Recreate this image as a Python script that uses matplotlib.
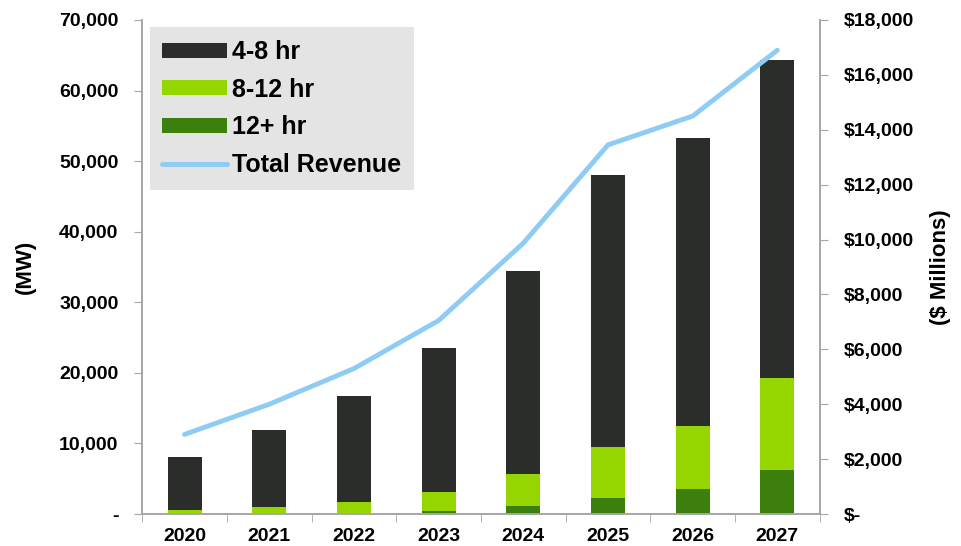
import numpy as np
import matplotlib.pyplot as plt
from matplotlib.ticker import FuncFormatter

plt.rcParams['font.family'] = ['Liberation Sans', 'DejaVu Sans']
plt.rcParams['font.weight'] = 'bold'

years = ['2020', '2021', '2022', '2023', '2024', '2025', '2026', '2027']
mw_12plus = [0, 0, 0, 420, 1130, 2220, 3490, 6230]
mw_8_12 = [560, 940, 1700, 2740, 4530, 7260, 8910, 13030]
mw_4_8 = [7500, 10900, 15000, 20340, 28740, 38520, 40900, 45140]
revenue = [2900, 4000, 5300, 7050, 9870, 13450, 14500, 16900]

c_dark = '#2b2d2b'
c_lime = '#95d600'
c_green = '#3d7f0c'
c_line = '#8ecbf5'
c_axis = '#a6a6a6'

x = np.arange(len(years))
b1 = np.array(mw_12plus)
b2 = b1 + np.array(mw_8_12)

fig = plt.figure(figsize=(9.61, 5.46), dpi=100)
ax = fig.add_axes([0.148, 0.0586, 0.705, 0.9048])

h3 = ax.bar(x, mw_12plus, width=0.4, color=c_green, label='12+ hr', zorder=2)
h2 = ax.bar(x, mw_8_12, width=0.4, bottom=b1, color=c_lime, label='8-12 hr', zorder=2)
h1 = ax.bar(x, mw_4_8, width=0.4, bottom=b2, color=c_dark, label='4-8 hr', zorder=2)

ax.set_xlim(-0.5, len(years) - 0.5)
ax.set_ylim(0, 70000)
ax.set_yticks(np.arange(0, 70001, 10000))
ax.yaxis.set_major_formatter(FuncFormatter(lambda v, p: '-' if v == 0 else f'{int(v):,}'))
ax.set_xticks(x)
ax.set_xticklabels(years)
ax.set_xticks(np.arange(-0.5, len(years), 1), minor=True)
ax.tick_params(axis='x', which='major', length=0, pad=10, labelsize=14)
ax.tick_params(axis='x', which='minor', length=6, color=c_axis, direction='out')
ax.tick_params(axis='y', length=6, color=c_axis, labelsize=14, pad=11)
ax.set_ylabel('(MW)', fontsize=16, fontweight='bold', labelpad=17)

ax2 = ax.twinx()
l1, = ax2.plot(x, revenue, color=c_line, lw=3.5, label='Total Revenue',
               solid_capstyle='round', zorder=3)
ax2.set_ylim(0, 18000)
ax2.set_yticks(np.arange(0, 18001, 2000))
ax2.yaxis.set_major_formatter(FuncFormatter(lambda v, p: '$-' if v == 0 else f'${int(v):,}'))
ax2.tick_params(axis='y', length=6, color=c_axis, labelsize=14, pad=11)
ax2.set_ylabel('($ Millions)', fontsize=16, fontweight='bold', labelpad=12)

for a in (ax, ax2):
    a.spines['top'].set_visible(False)
    for s in ('left', 'right', 'bottom'):
        a.spines[s].set_color(c_axis)
        a.spines[s].set_linewidth(1.2)

leg = ax2.legend([h1, h2, h3, l1], ['4-8 hr', '8-12 hr', '12+ hr', 'Total Revenue'],
                 loc='upper left', bbox_to_anchor=(0.0, 1.0), frameon=True,
                 fancybox=False, facecolor='#e4e4e4', edgecolor='none', framealpha=1,
                 prop={'size': 18, 'weight': 'bold'}, handlelength=2.6, handleheight=0.55,
                 handletextpad=0.2, labelspacing=0.55, borderpad=0.5, borderaxespad=0.3)

fig.savefig('out.png', dpi=100)
